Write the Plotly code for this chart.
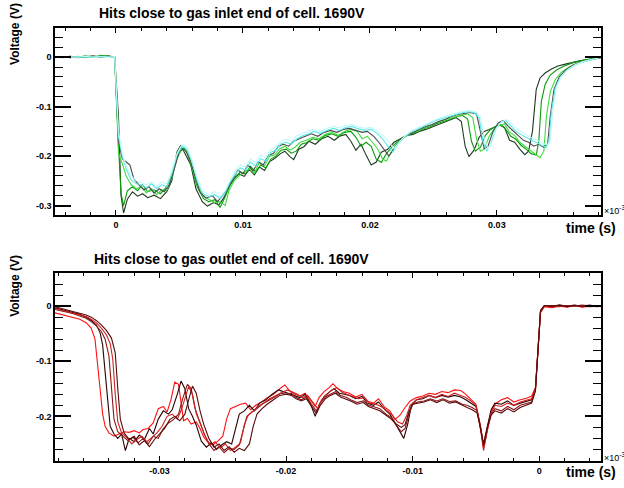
import plotly.graph_objects as go

# ---------------- data (time in s, voltage in V) ----------------
inlet_1 = [(-0.0048,0.000),(-0.0042,0.001),(-0.0036,-0.001),(-0.003,0.001),(-0.0024,0.000),(-0.0018,0.002),(-0.0012,0.001),(-0.0006,0.003),(-0.0001,0.000),
(0.0002,-0.120),(0.0004,-0.280),(0.0006,-0.315),(0.0009,-0.287),(0.0013,-0.272),(0.0017,-0.281),(0.0021,-0.276),(0.0025,-0.284),(0.0030,-0.279),(0.0035,-0.286),(0.0040,-0.272),(0.0044,-0.250),(0.0048,-0.192),(0.0051,-0.178),(0.0055,-0.198),(0.0059,-0.218),(0.0063,-0.266),(0.0068,-0.292),(0.0072,-0.301),(0.0077,-0.294),(0.0081,-0.299),(0.0085,-0.284),(0.0089,-0.262),(0.0093,-0.246),(0.0097,-0.236),(0.0101,-0.241),(0.0105,-0.227),(0.0109,-0.238),(0.0113,-0.222),(0.0117,-0.229),(0.0121,-0.211),(0.0125,-0.205),(0.0129,-0.196),(0.0133,-0.190),(0.0137,-0.201),(0.0140,-0.207),(0.0144,-0.186),(0.0148,-0.181),(0.0152,-0.170),(0.0157,-0.176),(0.0162,-0.165),(0.0167,-0.160),(0.0172,-0.168),(0.0176,-0.160),(0.0181,-0.156),(0.0185,-0.170),(0.0189,-0.188),(0.0193,-0.176),(0.0197,-0.198),(0.0201,-0.218),(0.0205,-0.212),(0.0209,-0.192),(0.0214,-0.186),(0.0219,-0.172),(0.0224,-0.165),(0.0229,-0.158),(0.0234,-0.156),(0.0239,-0.150),(0.0244,-0.146),(0.0249,-0.141),(0.0254,-0.137),(0.0259,-0.131),(0.0264,-0.127),(0.0268,-0.122),(0.0272,-0.130),(0.0275,-0.180),(0.0278,-0.201),(0.0282,-0.188),(0.0286,-0.162),(0.0290,-0.150),(0.0294,-0.146),(0.0298,-0.141),(0.0302,-0.137),(0.0306,-0.142),(0.0310,-0.168),(0.0314,-0.172),(0.0318,-0.186),(0.0322,-0.197),(0.0325,-0.190),(0.0328,-0.150),(0.0331,-0.065),(0.0334,-0.042),(0.0338,-0.032),(0.0343,-0.024),(0.0348,-0.018),(0.0354,-0.014),(0.0360,-0.010),(0.0366,-0.007),(0.0372,-0.005),(0.0378,-0.002),(0.0382,0.000)]

inlet_2 = [(-0.0048,0.001),(-0.0042,-0.001),(-0.0036,0.002),(-0.003,0.000),(-0.0024,0.003),(-0.0018,0.000),(-0.0012,0.004),(-0.0006,0.001),(-0.0001,0.000),
(0.0002,-0.180),(0.0004,-0.275),(0.0006,-0.300),(0.0009,-0.270),(0.0013,-0.262),(0.0017,-0.270),(0.0021,-0.258),(0.0025,-0.272),(0.0030,-0.268),(0.0035,-0.276),(0.0040,-0.262),(0.0044,-0.238),(0.0048,-0.200),(0.0052,-0.182),(0.0056,-0.192),(0.0060,-0.225),(0.0064,-0.262),(0.0069,-0.286),(0.0073,-0.292),(0.0078,-0.288),(0.0082,-0.304),(0.0086,-0.282),(0.0090,-0.258),(0.0094,-0.242),(0.0098,-0.232),(0.0102,-0.236),(0.0106,-0.221),(0.0110,-0.232),(0.0114,-0.218),(0.0118,-0.224),(0.0122,-0.206),(0.0126,-0.200),(0.0130,-0.188),(0.0134,-0.186),(0.0138,-0.194),(0.0142,-0.190),(0.0146,-0.176),(0.0150,-0.173),(0.0155,-0.165),(0.0160,-0.168),(0.0165,-0.158),(0.0170,-0.155),(0.0175,-0.160),(0.0180,-0.152),(0.0185,-0.150),(0.0189,-0.162),(0.0193,-0.180),(0.0197,-0.172),(0.0201,-0.180),(0.0205,-0.206),(0.0209,-0.213),(0.0213,-0.195),(0.0218,-0.180),(0.0223,-0.168),(0.0228,-0.160),(0.0233,-0.154),(0.0238,-0.150),(0.0243,-0.144),(0.0248,-0.140),(0.0253,-0.134),(0.0258,-0.130),(0.0263,-0.126),(0.0268,-0.120),(0.0273,-0.118),(0.0277,-0.125),(0.0280,-0.170),(0.0283,-0.190),(0.0287,-0.182),(0.0291,-0.158),(0.0295,-0.146),(0.0299,-0.140),(0.0303,-0.136),(0.0307,-0.146),(0.0311,-0.160),(0.0315,-0.166),(0.0319,-0.178),(0.0323,-0.186),(0.0327,-0.195),(0.0331,-0.198),(0.0333,-0.170),(0.0335,-0.090),(0.0338,-0.055),(0.0342,-0.036),(0.0347,-0.026),(0.0353,-0.018),(0.0359,-0.012),(0.0365,-0.008),(0.0371,-0.005),(0.0377,-0.002),(0.0382,0.001)]

inlet_3 = [(-0.0048,-0.001),(-0.0042,0.001),(-0.0036,0.000),(-0.003,0.002),(-0.0024,-0.001),(-0.0018,0.001),(-0.0012,0.000),(-0.0006,0.002),(-0.0001,0.000),
(0.0002,-0.195),(0.0005,-0.215),(0.0008,-0.240),(0.0012,-0.258),(0.0016,-0.266),(0.0020,-0.262),(0.0024,-0.274),(0.0028,-0.266),(0.0032,-0.278),(0.0036,-0.268),(0.0040,-0.270),(0.0044,-0.245),(0.0048,-0.205),(0.0052,-0.186),(0.0056,-0.190),(0.0060,-0.222),(0.0064,-0.258),(0.0069,-0.282),(0.0073,-0.288),(0.0078,-0.294),(0.0082,-0.292),(0.0086,-0.300),(0.0089,-0.270),(0.0093,-0.250),(0.0097,-0.240),(0.0101,-0.232),(0.0105,-0.226),(0.0109,-0.235),(0.0113,-0.212),(0.0117,-0.220),(0.0121,-0.200),(0.0125,-0.198),(0.0129,-0.185),(0.0133,-0.180),(0.0137,-0.188),(0.0141,-0.182),(0.0145,-0.172),(0.0150,-0.168),(0.0155,-0.162),(0.0160,-0.165),(0.0165,-0.156),(0.0170,-0.152),(0.0175,-0.158),(0.0180,-0.150),(0.0185,-0.146),(0.0190,-0.150),(0.0194,-0.165),(0.0198,-0.160),(0.0202,-0.172),(0.0206,-0.185),(0.0210,-0.206),(0.0213,-0.210),(0.0217,-0.190),(0.0222,-0.172),(0.0227,-0.162),(0.0232,-0.155),(0.0237,-0.150),(0.0242,-0.144),(0.0247,-0.139),(0.0252,-0.133),(0.0257,-0.128),(0.0262,-0.124),(0.0267,-0.120),(0.0272,-0.117),(0.0277,-0.115),(0.0281,-0.122),(0.0284,-0.165),(0.0287,-0.190),(0.0290,-0.186),(0.0294,-0.160),(0.0298,-0.144),(0.0302,-0.138),(0.0306,-0.135),(0.0310,-0.152),(0.0314,-0.158),(0.0318,-0.172),(0.0322,-0.180),(0.0326,-0.188),(0.0330,-0.196),(0.0334,-0.203),(0.0337,-0.190),(0.0339,-0.120),(0.0342,-0.070),(0.0346,-0.045),(0.0351,-0.030),(0.0357,-0.020),(0.0363,-0.013),(0.0369,-0.008),(0.0375,-0.004),(0.0382,-0.001)]

inlet_4 = [(-0.0048,0.001),(-0.0042,0.000),(-0.0036,0.002),(-0.003,-0.001),(-0.0024,0.001),(-0.0018,0.003),(-0.0012,0.000),(-0.0006,0.002),(-0.0001,0.000),
(0.0002,-0.170),(0.0005,-0.205),(0.0008,-0.212),(0.0011,-0.218),(0.0014,-0.245),(0.0018,-0.258),(0.0022,-0.268),(0.0026,-0.262),(0.0030,-0.275),(0.0034,-0.266),(0.0038,-0.272),(0.0042,-0.258),(0.0046,-0.225),(0.0050,-0.190),(0.0054,-0.185),(0.0058,-0.205),(0.0062,-0.238),(0.0066,-0.272),(0.0071,-0.285),(0.0076,-0.280),(0.0080,-0.292),(0.0084,-0.280),(0.0088,-0.265),(0.0092,-0.245),(0.0096,-0.228),(0.0100,-0.236),(0.0104,-0.218),(0.0108,-0.230),(0.0112,-0.212),(0.0116,-0.218),(0.0120,-0.198),(0.0124,-0.195),(0.0128,-0.180),(0.0132,-0.176),(0.0136,-0.180),(0.0140,-0.170),(0.0144,-0.165),(0.0149,-0.160),(0.0154,-0.155),(0.0159,-0.160),(0.0164,-0.152),(0.0169,-0.148),(0.0174,-0.152),(0.0179,-0.146),(0.0184,-0.144),(0.0189,-0.148),(0.0194,-0.152),(0.0198,-0.150),(0.0203,-0.160),(0.0207,-0.172),(0.0211,-0.185),(0.0215,-0.200),(0.0219,-0.185),(0.0224,-0.168),(0.0229,-0.158),(0.0234,-0.152),(0.0239,-0.146),(0.0244,-0.140),(0.0249,-0.136),(0.0254,-0.130),(0.0259,-0.126),(0.0264,-0.120),(0.0269,-0.116),(0.0274,-0.114),(0.0279,-0.112),(0.0284,-0.115),(0.0287,-0.150),(0.0290,-0.185),(0.0293,-0.180),(0.0297,-0.150),(0.0301,-0.133),(0.0305,-0.128),(0.0309,-0.140),(0.0313,-0.150),(0.0317,-0.160),(0.0321,-0.168),(0.0325,-0.172),(0.0329,-0.180),(0.0333,-0.176),(0.0337,-0.182),(0.0340,-0.175),(0.0342,-0.120),(0.0345,-0.065),(0.0349,-0.040),(0.0354,-0.026),(0.0360,-0.016),(0.0366,-0.010),(0.0372,-0.006),(0.0378,-0.003),(0.0382,-0.001)]

inlet_5 = [(-0.0048,0.000),(-0.0042,0.001),(-0.0036,0.000),(-0.003,0.001),(-0.0024,0.000),(-0.0018,0.001),(-0.0012,0.002),(-0.0006,0.001),(-0.0001,0.000),
(0.0002,-0.160),(0.0005,-0.200),(0.0008,-0.225),(0.0012,-0.248),(0.0016,-0.256),(0.0020,-0.258),(0.0024,-0.264),(0.0028,-0.256),(0.0032,-0.266),(0.0036,-0.258),(0.0040,-0.262),(0.0044,-0.236),(0.0048,-0.198),(0.0052,-0.180),(0.0056,-0.186),(0.0060,-0.212),(0.0064,-0.250),(0.0068,-0.275),(0.0073,-0.282),(0.0078,-0.278),(0.0082,-0.286),(0.0086,-0.274),(0.0090,-0.252),(0.0094,-0.236),(0.0098,-0.224),(0.0102,-0.228),(0.0106,-0.212),(0.0110,-0.220),(0.0114,-0.205),(0.0118,-0.210),(0.0122,-0.192),(0.0126,-0.188),(0.0130,-0.175),(0.0134,-0.172),(0.0138,-0.176),(0.0142,-0.166),(0.0146,-0.160),(0.0151,-0.156),(0.0156,-0.150),(0.0161,-0.154),(0.0166,-0.148),(0.0171,-0.144),(0.0176,-0.148),(0.0181,-0.142),(0.0186,-0.140),(0.0191,-0.145),(0.0196,-0.148),(0.0201,-0.146),(0.0206,-0.155),(0.0210,-0.165),(0.0214,-0.180),(0.0218,-0.192),(0.0222,-0.176),(0.0227,-0.162),(0.0232,-0.152),(0.0237,-0.146),(0.0242,-0.140),(0.0247,-0.134),(0.0252,-0.128),(0.0257,-0.124),(0.0262,-0.120),(0.0267,-0.116),(0.0272,-0.113),(0.0277,-0.110),(0.0282,-0.112),(0.0286,-0.122),(0.0289,-0.170),(0.0292,-0.190),(0.0295,-0.176),(0.0299,-0.145),(0.0303,-0.132),(0.0307,-0.128),(0.0311,-0.138),(0.0315,-0.150),(0.0319,-0.156),(0.0323,-0.162),(0.0327,-0.168),(0.0331,-0.172),(0.0335,-0.178),(0.0339,-0.182),(0.0341,-0.170),(0.0343,-0.110),(0.0346,-0.062),(0.0350,-0.040),(0.0355,-0.027),(0.0361,-0.017),(0.0367,-0.010),(0.0373,-0.006),(0.0379,-0.002),(0.0382,0.000)]

inlet_6 = [(-0.0048,0.002),(-0.0042,0.000),(-0.0036,0.001),(-0.003,0.000),(-0.0024,0.002),(-0.0018,0.000),(-0.0012,0.001),(-0.0006,0.000),(-0.0001,0.001),
(0.0002,-0.150),(0.0005,-0.195),(0.0008,-0.220),(0.0012,-0.240),(0.0016,-0.250),(0.0020,-0.254),(0.0024,-0.258),(0.0028,-0.252),(0.0032,-0.262),(0.0036,-0.252),(0.0040,-0.256),(0.0044,-0.230),(0.0048,-0.195),(0.0052,-0.176),(0.0056,-0.182),(0.0060,-0.208),(0.0064,-0.244),(0.0068,-0.270),(0.0073,-0.278),(0.0078,-0.272),(0.0082,-0.282),(0.0086,-0.270),(0.0090,-0.248),(0.0094,-0.230),(0.0098,-0.218),(0.0102,-0.222),(0.0106,-0.206),(0.0110,-0.214),(0.0114,-0.198),(0.0118,-0.204),(0.0122,-0.186),(0.0126,-0.182),(0.0130,-0.170),(0.0134,-0.166),(0.0138,-0.170),(0.0142,-0.160),(0.0146,-0.155),(0.0151,-0.150),(0.0156,-0.146),(0.0161,-0.150),(0.0166,-0.144),(0.0171,-0.140),(0.0176,-0.143),(0.0181,-0.138),(0.0186,-0.136),(0.0191,-0.141),(0.0196,-0.144),(0.0201,-0.142),(0.0206,-0.150),(0.0211,-0.160),(0.0215,-0.172),(0.0219,-0.185),(0.0223,-0.172),(0.0228,-0.158),(0.0233,-0.148),(0.0238,-0.142),(0.0243,-0.136),(0.0248,-0.130),(0.0253,-0.125),(0.0258,-0.120),(0.0263,-0.116),(0.0268,-0.113),(0.0273,-0.110),(0.0278,-0.108),(0.0283,-0.110),(0.0287,-0.120),(0.0290,-0.165),(0.0293,-0.185),(0.0296,-0.172),(0.0300,-0.142),(0.0304,-0.130),(0.0308,-0.126),(0.0312,-0.135),(0.0316,-0.146),(0.0320,-0.152),(0.0324,-0.158),(0.0328,-0.164),(0.0332,-0.168),(0.0336,-0.174),(0.0340,-0.178),(0.0342,-0.168),(0.0344,-0.108),(0.0347,-0.060),(0.0351,-0.038),(0.0356,-0.025),(0.0362,-0.015),(0.0368,-0.009),(0.0374,-0.005),(0.0380,-0.001),(0.0382,0.000)]

outlet_1 = [(-0.0383,-0.012),(-0.0378,-0.015),(-0.0373,-0.017),(-0.0368,-0.020),(-0.0363,-0.024),(-0.0358,-0.030),(-0.0354,-0.040),(-0.0351,-0.060),(-0.0349,-0.100),(-0.0347,-0.150),(-0.0345,-0.195),(-0.0343,-0.218),(-0.0340,-0.230),(-0.0336,-0.236),(-0.0332,-0.232),(-0.0328,-0.228),(-0.0324,-0.229),(-0.0320,-0.226),(-0.0316,-0.230),(-0.0313,-0.224),(-0.0309,-0.222),(-0.0305,-0.212),(-0.0301,-0.186),(-0.0297,-0.182),(-0.0294,-0.192),(-0.0291,-0.170),(-0.0288,-0.138),(-0.0285,-0.142),(-0.0283,-0.175),(-0.0281,-0.208),(-0.0278,-0.204),(-0.0275,-0.214),(-0.0271,-0.210),(-0.0268,-0.222),(-0.0265,-0.238),(-0.0262,-0.246),(-0.0258,-0.252),(-0.0254,-0.245),(-0.0250,-0.236),(-0.0247,-0.205),(-0.0244,-0.186),(-0.0240,-0.182),(-0.0236,-0.178),(-0.0232,-0.176),(-0.0228,-0.188),(-0.0224,-0.180),(-0.0220,-0.175),(-0.0215,-0.166),(-0.0210,-0.160),(-0.0205,-0.150),(-0.0201,-0.143),(-0.0197,-0.154),(-0.0193,-0.160),(-0.0189,-0.163),(-0.0185,-0.158),(-0.0181,-0.170),(-0.0177,-0.182),(-0.0174,-0.166),(-0.0170,-0.155),(-0.0166,-0.148),(-0.0163,-0.141),(-0.0159,-0.150),(-0.0155,-0.155),(-0.0150,-0.158),(-0.0145,-0.165),(-0.0140,-0.160),(-0.0136,-0.172),(-0.0131,-0.176),(-0.0127,-0.168),(-0.0122,-0.184),(-0.0118,-0.190),(-0.0114,-0.206),(-0.0110,-0.198),(-0.0106,-0.184),(-0.0102,-0.172),(-0.0097,-0.166),(-0.0092,-0.163),(-0.0087,-0.158),(-0.0082,-0.160),(-0.0077,-0.155),(-0.0072,-0.157),(-0.0067,-0.152),(-0.0062,-0.153),(-0.0058,-0.160),(-0.0054,-0.170),(-0.0050,-0.178),(-0.0047,-0.212),(-0.0044,-0.256),(-0.0041,-0.222),(-0.0038,-0.192),(-0.0035,-0.178),(-0.0030,-0.170),(-0.0025,-0.166),(-0.0020,-0.174),(-0.0015,-0.170),(-0.0010,-0.167),(-0.0006,-0.163),(-0.0003,-0.148),(-0.0001,-0.080),(0.0001,-0.012),(0.0004,-0.001),(0.0010,-0.003),(0.0016,0.000),(0.0022,-0.002),(0.0028,0.001),(0.0034,-0.002),(0.0040,0.000),(0.0046,-0.001),(0.0049,0.000)]

outlet_2 = [(-0.0383,-0.003),(-0.0378,-0.006),(-0.0373,-0.008),(-0.0368,-0.012),(-0.0363,-0.015),(-0.0358,-0.020),(-0.0354,-0.026),(-0.0350,-0.034),(-0.0347,-0.048),(-0.0345,-0.070),(-0.0343,-0.120),(-0.0341,-0.180),(-0.0339,-0.218),(-0.0336,-0.232),(-0.0333,-0.240),(-0.0330,-0.232),(-0.0327,-0.262),(-0.0324,-0.240),(-0.0320,-0.246),(-0.0316,-0.234),(-0.0312,-0.242),(-0.0308,-0.222),(-0.0305,-0.232),(-0.0301,-0.205),(-0.0297,-0.190),(-0.0293,-0.196),(-0.0290,-0.188),(-0.0286,-0.160),(-0.0283,-0.136),(-0.0280,-0.150),(-0.0277,-0.186),(-0.0274,-0.200),(-0.0271,-0.216),(-0.0267,-0.245),(-0.0263,-0.256),(-0.0259,-0.248),(-0.0255,-0.260),(-0.0251,-0.252),(-0.0247,-0.246),(-0.0243,-0.250),(-0.0240,-0.220),(-0.0237,-0.196),(-0.0233,-0.190),(-0.0229,-0.180),(-0.0225,-0.190),(-0.0221,-0.176),(-0.0216,-0.170),(-0.0211,-0.160),(-0.0206,-0.152),(-0.0201,-0.156),(-0.0197,-0.159),(-0.0193,-0.163),(-0.0189,-0.166),(-0.0185,-0.160),(-0.0181,-0.176),(-0.0177,-0.200),(-0.0174,-0.180),(-0.0170,-0.164),(-0.0166,-0.156),(-0.0162,-0.150),(-0.0158,-0.158),(-0.0154,-0.160),(-0.0150,-0.162),(-0.0145,-0.168),(-0.0140,-0.164),(-0.0136,-0.176),(-0.0131,-0.180),(-0.0127,-0.174),(-0.0122,-0.188),(-0.0118,-0.196),(-0.0114,-0.212),(-0.0110,-0.226),(-0.0107,-0.240),(-0.0104,-0.215),(-0.0101,-0.180),(-0.0097,-0.170),(-0.0092,-0.168),(-0.0087,-0.162),(-0.0082,-0.166),(-0.0077,-0.162),(-0.0072,-0.165),(-0.0067,-0.162),(-0.0062,-0.165),(-0.0058,-0.170),(-0.0054,-0.176),(-0.0050,-0.182),(-0.0047,-0.215),(-0.0044,-0.250),(-0.0041,-0.218),(-0.0038,-0.188),(-0.0035,-0.176),(-0.0030,-0.178),(-0.0025,-0.172),(-0.0020,-0.180),(-0.0015,-0.176),(-0.0010,-0.172),(-0.0006,-0.170),(-0.0003,-0.150),(-0.0001,-0.075),(0.0001,-0.008),(0.0004,0.001),(0.0010,-0.001),(0.0016,0.002),(0.0022,0.000),(0.0028,0.002),(0.0034,-0.001),(0.0040,0.001),(0.0046,0.000),(0.0049,0.001)]

outlet_3 = [(-0.0383,-0.006),(-0.0378,-0.008),(-0.0373,-0.011),(-0.0368,-0.014),(-0.0363,-0.018),(-0.0358,-0.022),(-0.0354,-0.028),(-0.0350,-0.036),(-0.0346,-0.046),(-0.0343,-0.060),(-0.0340,-0.090),(-0.0338,-0.150),(-0.0336,-0.205),(-0.0333,-0.228),(-0.0329,-0.236),(-0.0325,-0.244),(-0.0321,-0.238),(-0.0317,-0.248),(-0.0313,-0.240),(-0.0309,-0.250),(-0.0305,-0.236),(-0.0301,-0.240),(-0.0297,-0.222),(-0.0293,-0.212),(-0.0289,-0.206),(-0.0285,-0.196),(-0.0282,-0.170),(-0.0278,-0.142),(-0.0275,-0.150),(-0.0272,-0.185),(-0.0269,-0.205),(-0.0265,-0.230),(-0.0261,-0.250),(-0.0257,-0.262),(-0.0253,-0.255),(-0.0249,-0.266),(-0.0245,-0.258),(-0.0241,-0.260),(-0.0237,-0.252),(-0.0234,-0.225),(-0.0231,-0.200),(-0.0227,-0.192),(-0.0223,-0.186),(-0.0219,-0.178),(-0.0214,-0.172),(-0.0209,-0.165),(-0.0204,-0.158),(-0.0200,-0.160),(-0.0196,-0.158),(-0.0192,-0.166),(-0.0188,-0.170),(-0.0184,-0.165),(-0.0180,-0.178),(-0.0176,-0.190),(-0.0173,-0.175),(-0.0169,-0.165),(-0.0165,-0.160),(-0.0161,-0.155),(-0.0157,-0.162),(-0.0153,-0.165),(-0.0149,-0.170),(-0.0144,-0.175),(-0.0139,-0.172),(-0.0135,-0.180),(-0.0130,-0.183),(-0.0126,-0.186),(-0.0121,-0.196),(-0.0117,-0.202),(-0.0113,-0.216),(-0.0109,-0.228),(-0.0106,-0.222),(-0.0103,-0.196),(-0.0100,-0.178),(-0.0096,-0.174),(-0.0091,-0.172),(-0.0086,-0.168),(-0.0081,-0.172),(-0.0076,-0.168),(-0.0071,-0.173),(-0.0066,-0.172),(-0.0061,-0.178),(-0.0057,-0.180),(-0.0053,-0.184),(-0.0049,-0.190),(-0.0046,-0.222),(-0.0044,-0.258),(-0.0041,-0.224),(-0.0038,-0.196),(-0.0035,-0.186),(-0.0030,-0.190),(-0.0025,-0.182),(-0.0020,-0.188),(-0.0015,-0.180),(-0.0010,-0.176),(-0.0006,-0.174),(-0.0003,-0.152),(-0.0001,-0.070),(0.0001,-0.010),(0.0004,0.000),(0.0010,0.001),(0.0016,-0.001),(0.0022,0.001),(0.0028,0.000),(0.0034,0.002),(0.0040,0.000),(0.0046,0.001),(0.0049,0.000)]

outlet_4 = [(-0.0383,-0.004),(-0.0378,-0.007),(-0.0373,-0.010),(-0.0368,-0.012),(-0.0363,-0.016),(-0.0358,-0.019),(-0.0354,-0.024),(-0.0350,-0.030),(-0.0346,-0.040),(-0.0342,-0.052),(-0.0339,-0.068),(-0.0337,-0.095),(-0.0335,-0.160),(-0.0333,-0.210),(-0.0330,-0.230),(-0.0326,-0.238),(-0.0322,-0.250),(-0.0318,-0.242),(-0.0314,-0.236),(-0.0310,-0.246),(-0.0306,-0.238),(-0.0302,-0.230),(-0.0298,-0.218),(-0.0294,-0.200),(-0.0290,-0.196),(-0.0286,-0.205),(-0.0283,-0.190),(-0.0280,-0.166),(-0.0277,-0.146),(-0.0274,-0.160),(-0.0271,-0.195),(-0.0268,-0.212),(-0.0264,-0.236),(-0.0260,-0.252),(-0.0256,-0.246),(-0.0252,-0.258),(-0.0248,-0.250),(-0.0244,-0.262),(-0.0240,-0.256),(-0.0236,-0.248),(-0.0233,-0.215),(-0.0230,-0.198),(-0.0226,-0.190),(-0.0222,-0.182),(-0.0218,-0.176),(-0.0213,-0.168),(-0.0208,-0.162),(-0.0203,-0.156),(-0.0199,-0.152),(-0.0195,-0.156),(-0.0191,-0.160),(-0.0187,-0.166),(-0.0183,-0.162),(-0.0179,-0.174),(-0.0175,-0.186),(-0.0172,-0.170),(-0.0168,-0.160),(-0.0164,-0.152),(-0.0160,-0.148),(-0.0156,-0.156),(-0.0152,-0.160),(-0.0148,-0.164),(-0.0143,-0.168),(-0.0138,-0.166),(-0.0134,-0.176),(-0.0129,-0.178),(-0.0125,-0.182),(-0.0120,-0.190),(-0.0116,-0.198),(-0.0112,-0.210),(-0.0108,-0.214),(-0.0105,-0.200),(-0.0102,-0.180),(-0.0097,-0.170),(-0.0092,-0.166),(-0.0087,-0.162),(-0.0082,-0.166),(-0.0077,-0.160),(-0.0072,-0.164),(-0.0067,-0.158),(-0.0062,-0.162),(-0.0058,-0.166),(-0.0054,-0.172),(-0.0050,-0.180),(-0.0047,-0.214),(-0.0044,-0.262),(-0.0041,-0.226),(-0.0038,-0.194),(-0.0035,-0.180),(-0.0030,-0.182),(-0.0025,-0.176),(-0.0020,-0.180),(-0.0015,-0.174),(-0.0010,-0.170),(-0.0006,-0.168),(-0.0003,-0.150),(-0.0001,-0.078),(0.0001,-0.011),(0.0004,0.000),(0.0010,-0.002),(0.0016,0.001),(0.0022,-0.001),(0.0028,0.001),(0.0034,0.000),(0.0040,-0.001),(0.0046,0.000),(0.0049,0.000)]

outlet_5 = [(-0.0383,-0.001),(-0.0378,-0.004),(-0.0373,-0.006),(-0.0368,-0.009),(-0.0363,-0.012),(-0.0358,-0.016),(-0.0354,-0.020),(-0.0350,-0.026),(-0.0346,-0.034),(-0.0342,-0.044),(-0.0338,-0.058),(-0.0335,-0.085),(-0.0333,-0.150),(-0.0331,-0.205),(-0.0328,-0.230),(-0.0324,-0.242),(-0.0320,-0.236),(-0.0316,-0.252),(-0.0312,-0.244),(-0.0308,-0.255),(-0.0304,-0.242),(-0.0300,-0.232),(-0.0296,-0.222),(-0.0292,-0.206),(-0.0288,-0.200),(-0.0284,-0.208),(-0.0280,-0.196),(-0.0277,-0.170),(-0.0274,-0.145),(-0.0271,-0.158),(-0.0268,-0.190),(-0.0265,-0.215),(-0.0261,-0.240),(-0.0257,-0.256),(-0.0253,-0.250),(-0.0249,-0.262),(-0.0245,-0.255),(-0.0241,-0.265),(-0.0237,-0.258),(-0.0233,-0.262),(-0.0229,-0.250),(-0.0226,-0.218),(-0.0223,-0.196),(-0.0219,-0.186),(-0.0215,-0.178),(-0.0210,-0.170),(-0.0205,-0.162),(-0.0200,-0.160),(-0.0196,-0.162),(-0.0192,-0.168),(-0.0188,-0.172),(-0.0184,-0.168),(-0.0180,-0.182),(-0.0176,-0.195),(-0.0173,-0.180),(-0.0169,-0.168),(-0.0165,-0.162),(-0.0161,-0.158),(-0.0157,-0.165),(-0.0153,-0.168),(-0.0149,-0.172),(-0.0144,-0.178),(-0.0139,-0.175),(-0.0135,-0.182),(-0.0130,-0.186),(-0.0126,-0.190),(-0.0121,-0.198),(-0.0117,-0.205),(-0.0113,-0.214),(-0.0109,-0.220),(-0.0106,-0.215),(-0.0103,-0.192),(-0.0100,-0.178),(-0.0096,-0.176),(-0.0091,-0.174),(-0.0086,-0.170),(-0.0081,-0.175),(-0.0076,-0.170),(-0.0071,-0.176),(-0.0066,-0.174),(-0.0061,-0.180),(-0.0057,-0.184),(-0.0053,-0.188),(-0.0049,-0.194),(-0.0046,-0.226),(-0.0044,-0.252),(-0.0041,-0.220),(-0.0038,-0.198),(-0.0035,-0.190),(-0.0030,-0.194),(-0.0025,-0.186),(-0.0020,-0.192),(-0.0015,-0.184),(-0.0010,-0.180),(-0.0006,-0.176),(-0.0003,-0.154),(-0.0001,-0.072),(0.0001,-0.009),(0.0004,0.001),(0.0010,0.000),(0.0016,0.002),(0.0022,-0.001),(0.0028,0.001),(0.0034,0.000),(0.0040,0.002),(0.0046,-0.001),(0.0049,0.001)]

inlet_colors = ["#1f3a1f", "#0a9a0a", "#3ddc3d", "#4a4a4a", "#5ee8e8", "#bff9f9"]
outlet_colors = ["#ff1010", "#2a0404", "#8a1616", "#d02020", "#5a0808"]

top_xticks = [0, 0.01, 0.02, 0.03]
top_xticklabels = ["0", "0.01", "0.02", "0.03"]
top_yticks = [0, -0.1, -0.2, -0.3]
top_yticklabels = ["0", "-0.1", "-0.2", "-0.3"]
bot_xticks = [-0.03, -0.02, -0.01, 0]
bot_xticklabels = ["-0.03", "-0.02", "-0.01", "0"]
bot_yticks = [0, -0.1, -0.2]
bot_yticklabels = ["0", "-0.1", "-0.2"]

title_top = "Hits close to gas inlet end of cell. 1690V"
title_bot = "Hits close to gas outlet end of cell. 1690V"

# ---------------- figure ----------------
W, H = 624, 488
ML, MR, MT, MB = 55, 23, 28, 20
PW, PH = W - ML - MR, H - MT - MB

def px(x):
    return (x - ML) / PW

def py(y):
    return (H - MB - y) / PH

fig = go.Figure()

for pts, col in zip([inlet_1, inlet_2, inlet_3, inlet_4, inlet_5, inlet_6], inlet_colors):
    fig.add_trace(go.Scatter(x=[p[0] for p in pts], y=[p[1] for p in pts], mode="lines",
                             line=dict(color=col, width=1.1), xaxis="x", yaxis="y",
                             showlegend=False, hoverinfo="skip"))
for pts, col in zip([outlet_1, outlet_2, outlet_3, outlet_4, outlet_5], outlet_colors):
    fig.add_trace(go.Scatter(x=[p[0] for p in pts], y=[p[1] for p in pts], mode="lines",
                             line=dict(color=col, width=1.1), xaxis="x2", yaxis="y2",
                             showlegend=False, hoverinfo="skip"))

FONT = "Liberation Sans, Arial, sans-serif"
tickfont = dict(family=FONT, size=9, color="black", weight="bold")

def xaxis(rng, anchor, vals, labels):
    return dict(range=rng, anchor=anchor, domain=[0, 1], showline=True, linecolor="black",
                linewidth=1.5, mirror="allticks", ticks="inside", ticklen=5, tickwidth=1.2,
                tickcolor="black", tickmode="array", tickvals=vals, ticktext=labels,
                tickfont=tickfont, showgrid=False, zeroline=False,
                minor=dict(ticks="inside", ticklen=3, tickwidth=1, tickcolor="black",
                           tick0=0, dtick=0.002, showgrid=False))

def yaxis(rng, dom, anchor, vals, labels):
    return dict(range=rng, domain=dom, anchor=anchor, showline=True, linecolor="black",
                linewidth=1.5, mirror="allticks", ticks="inside", ticklen=16, tickwidth=1.5,
                tickcolor="black", tickmode="array", tickvals=vals, ticktext=labels,
                tickfont=tickfont, showgrid=False, zeroline=False,
                minor=dict(ticks="inside", ticklen=8, tickwidth=1, tickcolor="black",
                           tick0=0, dtick=0.02, showgrid=False))

top_dom = [py(218), 1]
bot_dom = [0, py(277)]

fig.update_layout(
    width=W, height=H, margin=dict(l=ML, r=MR, t=MT, b=MB),
    paper_bgcolor="white", plot_bgcolor="white", showlegend=False,
    xaxis=xaxis([-0.0048, 0.0382], "y", top_xticks, top_xticklabels),
    yaxis=yaxis([-0.319, 0.059], top_dom, "x", top_yticks, top_yticklabels),
    xaxis2=xaxis([-0.03826, 0.00488], "y2", bot_xticks, bot_xticklabels),
    yaxis2=yaxis([-0.281, 0.06], bot_dom, "x2", bot_yticks, bot_yticklabels),
)

ann = [
    dict(text="<b>" + title_top + "</b>", x=px(97), y=py(13), xanchor="left", yanchor="middle",
         font=dict(family=FONT, size=14, color="black")),
    dict(text="<b>" + title_bot + "</b>", x=px(92), y=py(263), xanchor="left", yanchor="middle",
         font=dict(family=FONT, size=14, color="black")),
    dict(text="<b>Voltage (V)</b>", x=px(15), y=py(34), xanchor="center", yanchor="middle",
         textangle=-90, font=dict(family=FONT, size=12, color="black")),
    dict(text="<b>Voltage (V)</b>", x=px(15), y=py(290), xanchor="center", yanchor="middle",
         textangle=-90, font=dict(family=FONT, size=12, color="black")),
    dict(text="<b>time (s)</b>", x=px(618), y=py(231), xanchor="right", yanchor="middle",
         font=dict(family=FONT, size=14, color="black")),
    dict(text="<b>time (s)</b>", x=px(618), y=py(479), xanchor="right", yanchor="middle",
         font=dict(family=FONT, size=14, color="black")),
    dict(text="×10<sup>-3</sup>", x=px(602), y=py(213), xanchor="left", yanchor="middle",
         font=dict(family=FONT, size=9, color="black")),
    dict(text="×10<sup>-3</sup>", x=px(602), y=py(464), xanchor="left", yanchor="middle",
         font=dict(family=FONT, size=9, color="black")),
]
for a in ann:
    a.update(xref="paper", yref="paper", showarrow=False)
fig.update_layout(annotations=ann)

fig.write_html("out.html")
